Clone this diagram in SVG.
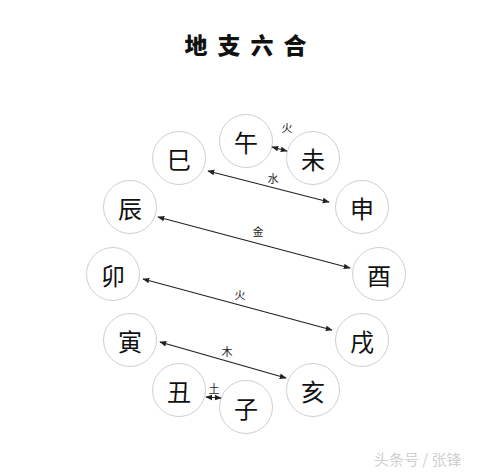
<svg xmlns="http://www.w3.org/2000/svg" width="490" height="474" viewBox="0 0 490 474">
<defs>
<style>
.n circle{fill:#fff;stroke:#cfcfcf;stroke-width:1}
.n text{font-family:"Noto Sans CJK SC","Noto Sans CJK JP",serif;font-size:24px;fill:#111;text-anchor:middle;dominant-baseline:central}
.lbl{font-family:"Noto Sans CJK SC",sans-serif;font-size:11px;fill:#222;text-anchor:middle;dominant-baseline:central}
.c line{stroke:#222;stroke-width:1.2;marker-start:url(#ah);marker-end:url(#ah)}
.title{font-family:"Noto Sans CJK SC",serif;font-size:23px;font-weight:900;fill:#111;text-anchor:middle;dominant-baseline:central}
.wm{font-family:"Noto Sans CJK SC",sans-serif;font-size:15px;fill:#d0d0d0}
</style>
<marker id="ah" viewBox="0 0 10 10" refX="9" refY="5" markerWidth="7" markerHeight="7" markerUnits="userSpaceOnUse" orient="auto-start-reverse">
<path d="M0,1 L10,5 L0,9 Z" fill="#222"/>
</marker>
</defs>
<rect width="490" height="474" fill="#fff"/>
<g id="title">
<text class="title" x="196" y="44">地</text>
<text class="title" x="229" y="44">支</text>
<text class="title" x="262" y="44">六</text>
<text class="title" x="295" y="44">合</text>
</g>
<g id="n-wu" class="n"><circle cx="246" cy="141" r="26.5"/><text x="246" y="141">午</text></g>
<g id="n-wei" class="n"><circle cx="313" cy="158" r="26.5"/><text x="313" y="158">未</text></g>
<g id="n-shen" class="n"><circle cx="362" cy="207" r="26.5"/><text x="362" y="207">申</text></g>
<g id="n-you" class="n"><circle cx="379" cy="274" r="26.5"/><text x="379" y="274">酉</text></g>
<g id="n-xu" class="n"><circle cx="362" cy="340" r="26.5"/><text x="362" y="340">戌</text></g>
<g id="n-hai" class="n"><circle cx="313" cy="390" r="26.5"/><text x="313" y="390">亥</text></g>
<g id="n-zi" class="n"><circle cx="246" cy="407" r="26.5"/><text x="246" y="407">子</text></g>
<g id="n-chou" class="n"><circle cx="179" cy="390" r="26.5"/><text x="179" y="390">丑</text></g>
<g id="n-yin" class="n"><circle cx="130" cy="340" r="26.5"/><text x="130" y="340">寅</text></g>
<g id="n-mao" class="n"><circle cx="113" cy="274" r="26.5"/><text x="113" y="274">卯</text></g>
<g id="n-chen" class="n"><circle cx="130" cy="207" r="26.5"/><text x="130" y="207">辰</text></g>
<g id="n-si" class="n"><circle cx="179" cy="158" r="26.5"/><text x="179" y="158">巳</text></g>
<g id="connectors" class="c">
<line x1="272" y1="147" x2="287" y2="151"/>
<line x1="208" y1="171" x2="329" y2="202"/>
<line x1="158" y1="217" x2="350" y2="268"/>
<line x1="143" y1="279" x2="332" y2="330"/>
<line x1="160" y1="342" x2="286" y2="378"/>
<line x1="206" y1="397" x2="221" y2="398"/>
</g>
<g id="labels">
<text class="lbl" x="287" y="127">火</text>
<text class="lbl" x="273" y="178">水</text>
<text class="lbl" x="258" y="231">金</text>
<text class="lbl" x="240" y="294">火</text>
<text class="lbl" x="227" y="351">木</text>
<text class="lbl" x="214" y="388">土</text>
</g>
<text class="wm" x="374" y="465">头条号 / 张锋</text>
</svg>
